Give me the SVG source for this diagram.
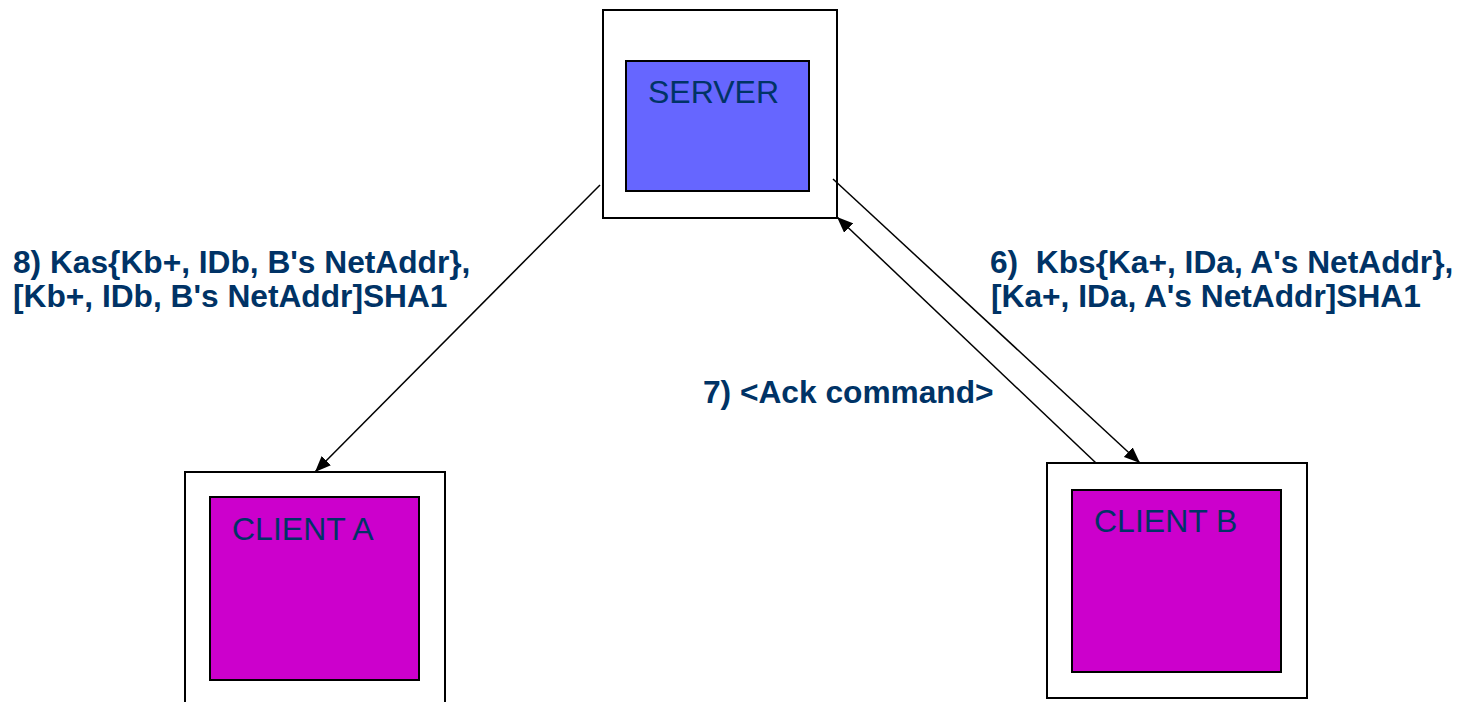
<svg xmlns="http://www.w3.org/2000/svg" width="1467" height="702" viewBox="0 0 1467 702">
<style>
.outer{fill:#fff;stroke:#000;stroke-width:2}
.inner{stroke:#000;stroke-width:2}
.name{font-family:"Liberation Sans",Arial,sans-serif;font-size:32px;fill:#003366}
.lbl{font-family:"Liberation Sans",Arial,sans-serif;font-size:31.7px;font-weight:bold;fill:#003366;white-space:pre}
.conn{stroke:#000;stroke-width:1.5;fill:none}
</style>
<defs>
<marker id="arr" viewBox="0 0 10 10" refX="10" refY="5" markerWidth="16" markerHeight="13" markerUnits="userSpaceOnUse" orient="auto" preserveAspectRatio="none">
<path d="M0,0 L10,5 L0,10 z" fill="#000"/>
</marker>
</defs>
<rect width="1467" height="702" fill="#fff"/>
<g id="server">
<rect class="outer" x="603" y="10" width="234" height="208"/>
<rect class="inner" x="626" y="61" width="183" height="130" fill="#6666FF"/>
<text class="name" x="648" y="103">SERVER</text>
</g>
<g id="clientA">
<rect class="outer" x="185" y="472" width="260" height="240"/>
<rect class="inner" x="210" y="497" width="209" height="183" fill="#CC00CC"/>
<text class="name" x="232" y="540">CLIENT A</text>
</g>
<g id="clientB">
<rect class="outer" x="1047" y="463" width="260" height="235"/>
<rect class="inner" x="1072" y="490" width="209" height="182" fill="#CC00CC"/>
<text class="name" x="1094" y="532">CLIENT B</text>
</g>
<g id="connectors">
<line class="conn" x1="600" y1="185" x2="315" y2="472" marker-end="url(#arr)"/>
<line class="conn" x1="833" y1="179" x2="1140" y2="463" marker-end="url(#arr)"/>
<line class="conn" x1="1096" y1="463" x2="837" y2="217" marker-end="url(#arr)"/>
</g>
<g id="labels">
<text class="lbl" x="13" y="273">8) Kas{Kb+, IDb, B's NetAddr},</text>
<text class="lbl" x="13" y="307">[Kb+, IDb, B's NetAddr]SHA1</text>
<text class="lbl" x="990" y="273">6)  Kbs{Ka+, IDa, A's NetAddr},</text>
<text class="lbl" x="991" y="307">[Ka+, IDa, A's NetAddr]SHA1</text>
<text class="lbl" x="703" y="403">7) &lt;Ack command&gt;</text>
</g>
</svg>
